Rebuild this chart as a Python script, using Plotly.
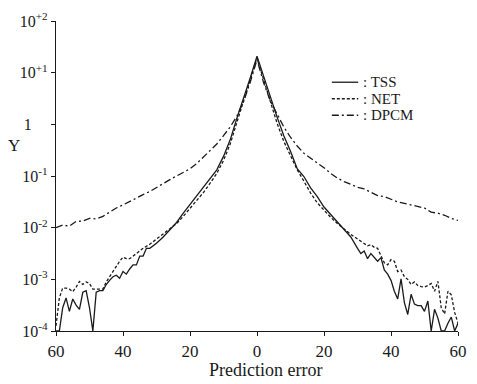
import plotly.graph_objects as go

# ---- data (log10 of Y) ----
x_tss = list(range(-60, -31)) + list(range(-30, 31, 2)) + list(range(31, 61))
log_tss = [-4.0, -4.0, -3.55, -3.36, -3.62, -3.38, -3.50, -3.58, -3.25, -3.22,
           -3.55, -4.0, -3.25, -3.22, -3.22, -3.10, -3.02, -2.95, -2.92, -2.98,
           -2.85, -2.90, -2.80, -2.72, -2.72, -2.55, -2.55, -2.40, -2.40,
           -2.30, -2.18, -2.05, -1.90, -1.72, -1.55, -1.40, -1.22, -1.06, -0.88,
           -0.62, -0.30, 0.12, 0.50, 0.90, 1.32, 0.92, 0.52, 0.14, -0.22, -0.52,
           -0.86, -1.01, -1.23, -1.40, -1.60, -1.74, -1.88, -2.02, -2.18, -2.40,
           -2.50, -2.45, -2.60, -2.50, -2.58, -2.65, -2.58, -2.82, -2.90, -3.02,
           -3.23, -3.38, -2.99, -3.45, -3.68, -3.29, -3.48, -3.51, -3.51, -3.62,
           -3.42, -4.0, -3.58, -3.75, -4.0, -4.0, -3.85, -3.73, -4.0, -3.85]

x_net = list(range(-60, -35)) + list(range(-34, 33, 2)) + list(range(33, 61))
log_net = [-3.9, -3.36, -3.17, -3.17, -3.19, -3.24, -3.15, -3.04, -3.10, -3.05,
           -3.08, -3.19, -3.19, -3.19, -3.19, -3.05, -2.95, -2.86, -2.74, -2.65,
           -2.57, -2.60, -2.60, -2.55, -2.50,
           -2.40, -2.32, -2.22, -2.12, -2.03, -1.92, -1.78, -1.63, -1.48, -1.32,
           -1.14, -0.95, -0.70, -0.38, 0.04, 0.44, 0.85, 1.28,
           0.86, 0.42, 0.02, -0.33, -0.62, -0.88, -1.10, -1.33, -1.52, -1.67,
           -1.80, -1.92, -2.03, -2.13, -2.22, -2.30,
           -2.35, -2.33, -2.38, -2.40, -2.55, -2.68, -2.72, -2.62,
           -2.65, -2.85, -2.82, -2.95, -3.00, -3.10, -3.05, -3.12, -3.14, -3.15,
           -3.12, -3.08, -3.23, -3.04, -3.55, -3.67, -3.23, -3.30, -3.64, -3.85]

x_dpcm = list(range(-60, 61, 2))
log_dpcm = [-2.00, -1.95, -1.97, -1.88, -1.87, -1.82, -1.83, -1.78, -1.70, -1.62,
            -1.56, -1.49, -1.42, -1.36, -1.30, -1.22, -1.15, -1.07, -1.00, -0.93,
            -0.86, -0.76, -0.63, -0.50, -0.38, -0.22, -0.05, 0.16, 0.44, 0.82,
            1.25,
            0.80, 0.45, 0.20, -0.05, -0.25, -0.42, -0.56, -0.66, -0.75, -0.84,
            -0.95, -1.04, -1.11, -1.16, -1.22, -1.25, -1.32, -1.38, -1.40, -1.45,
            -1.50, -1.53, -1.56, -1.60, -1.62, -1.70, -1.72, -1.76, -1.82, -1.86]

series_names = [": TSS", ": NET", ": DPCM"]
series_dash = ["solid", "3px,2px", "7px,3px,2px,3px"]

x_ticks = [-60, -40, -20, 0, 20, 40, 60]
x_ticktext = ["60", "40", "20", "0", "20", "40", "60"]
y_ticks = [1e-4, 1e-3, 1e-2, 1e-1, 1, 1e1, 1e2]
y_ticktext = ["10<sup>-4</sup>", "10<sup>-3</sup>", "10<sup>-2</sup>",
              "10<sup>-1</sup>", "1" + "\u00a0" * 4, "10<sup>+1</sup>", "10<sup>+2</sup>"]

FONT = "Liberation Serif"
INK = "#1a1a1a"

fig = go.Figure()
for xs, logs, nm, dsh in [(x_tss, log_tss, series_names[0], series_dash[0]),
                          (x_net, log_net, series_names[1], series_dash[1]),
                          (x_dpcm, log_dpcm, series_names[2], series_dash[2])]:
    fig.add_trace(go.Scatter(x=xs, y=[10 ** v for v in logs], mode="lines",
                             name=nm, showlegend=False,
                             line=dict(color=INK, width=1.3, dash=dsh)))

# hand-placed legend (decoration only): sample strokes + labels
W, H = 477, 384
ML, MR, MT, MB = 56, 10, 12, 53
def px_x(p):
    return (p - ML) / (W - ML - MR)
def px_y(p):
    return 1 - (p - MT) / (H - MT - MB)

leg_rows = [75, 92, 109]
shapes = []
annotations = []
for row, nm, dsh in zip(leg_rows, series_names, series_dash):
    shapes.append(dict(type="line", xref="paper", yref="paper",
                       x0=px_x(338), x1=px_x(365), y0=px_y(row), y1=px_y(row),
                       line=dict(color=INK, width=1.3, dash=dsh)))
    annotations.append(dict(text=nm, xref="paper", yref="paper", x=px_x(369), y=px_y(row),
                            xanchor="left", yanchor="middle", showarrow=False,
                            borderpad=0,
                            font=dict(family=FONT, size=15, color=INK)))

annotations += [
    dict(text="Prediction error", xref="paper", yref="paper", x=0.52, y=-0.125,
         xanchor="center", yanchor="middle", showarrow=False,
         font=dict(family=FONT, size=18, color=INK)),
    dict(text="Y", xref="paper", yref="paper", x=-0.105, y=0.6,
         xanchor="center", yanchor="middle", showarrow=False,
         font=dict(family=FONT, size=17, color=INK)),
]

fig.update_layout(
    width=W, height=H,
    margin=dict(l=ML, r=MR, t=MT, b=MB),
    paper_bgcolor="white", plot_bgcolor="white",
    font=dict(family=FONT, size=16, color=INK),
    showlegend=False,
    xaxis=dict(range=[-60, 60], tickvals=x_ticks, ticktext=x_ticktext,
               showgrid=False, zeroline=False, showline=True, linecolor=INK,
               linewidth=1.2, ticks="outside", ticklen=4, tickcolor=INK,
               ticklabeloverflow="allow",
               tickfont=dict(family=FONT, size=17, color=INK)),
    yaxis=dict(type="log", range=[-4, 2], tickvals=y_ticks, ticktext=y_ticktext,
               showgrid=False, zeroline=False, showline=True, linecolor=INK,
               linewidth=1.2, ticks="outside", ticklen=4, tickcolor=INK,
               tickfont=dict(family=FONT, size=16, color=INK)),
    xaxis2=dict(overlaying="x", anchor="y", range=[-60, 60], tickvals=x_ticks,
                showticklabels=False, showgrid=False, zeroline=False,
                ticks="inside", ticklen=4, tickcolor=INK, side="bottom"),
    yaxis2=dict(overlaying="y", anchor="x", type="log", range=[-4, 2],
                tickvals=y_ticks, showticklabels=False, showgrid=False,
                zeroline=False, ticks="inside", ticklen=4, tickcolor=INK, side="left"),
    shapes=shapes,
    annotations=annotations,
)

fig.write_html("out.html")
